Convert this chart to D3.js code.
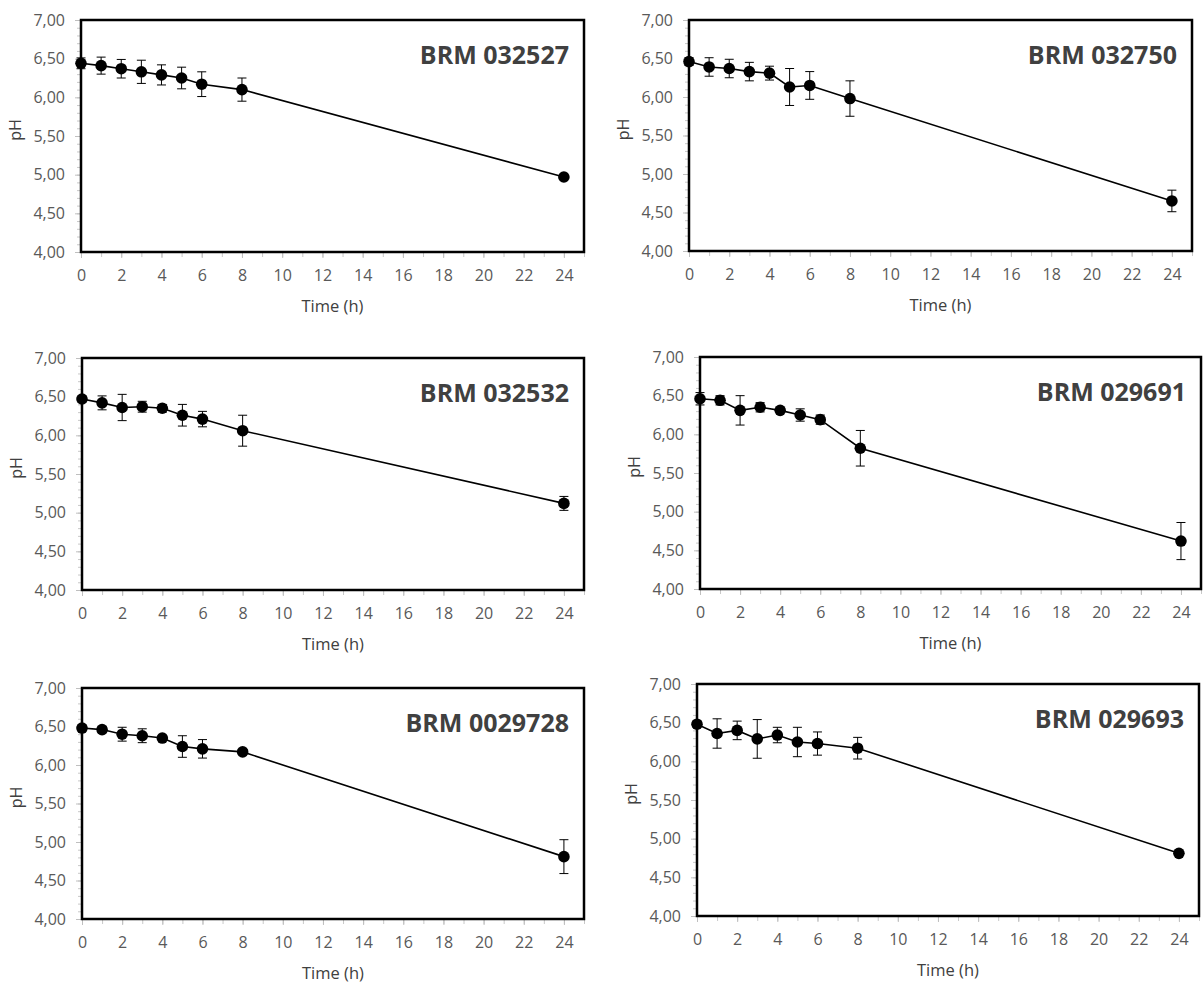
<!DOCTYPE html>
<html>
<head>
<meta charset="utf-8">
<script src="https://cdn.jsdelivr.net/npm/d3@7/dist/d3.min.js"></script>
<style>
  body { margin: 0; background: #fff; }
  text { font-family: "Open Sans", sans-serif; }
</style>
</head>
<body>
<svg id="chart" width="1203" height="984"></svg>
<script>
// sampling times (h) shared by every strain
var hours = [0, 1, 2, 3, 4, 5, 6, 8, 24]

var strains = ["BRM 032527", "BRM 032750", "BRM 032532", "BRM 029691", "BRM 0029728", "BRM 029693"]

// mean pH and error bar half-width
var ph032527 = [6.44, 6.41, 6.37, 6.33, 6.29, 6.25, 6.17, 6.10, 4.97]
var sd032527 = [0.07, 0.11, 0.12, 0.15, 0.13, 0.14, 0.16, 0.15, 0.02]

var ph032750 = [6.46, 6.39, 6.37, 6.33, 6.31, 6.13, 6.15, 5.98, 4.65]
var sd032750 = [0.05, 0.12, 0.12, 0.12, 0.09, 0.24, 0.18, 0.23, 0.14]

var ph032532 = [6.47, 6.42, 6.36, 6.37, 6.35, 6.26, 6.21, 6.06, 5.12]
var sd032532 = [0.04, 0.09, 0.17, 0.07, 0.05, 0.14, 0.10, 0.20, 0.09]

var ph029691 = [6.46, 6.44, 6.31, 6.35, 6.31, 6.25, 6.19, 5.82, 4.62]
var sd029691 = [0.08, 0.06, 0.19, 0.06, 0.03, 0.08, 0.06, 0.23, 0.24]

var ph0029728 = [6.48, 6.46, 6.40, 6.38, 6.35, 6.24, 6.21, 6.17, 4.81]
var sd0029728 = [0.04, 0.04, 0.09, 0.09, 0.03, 0.14, 0.12, 0.02, 0.22]

var ph029693 = [6.48, 6.36, 6.40, 6.29, 6.34, 6.25, 6.23, 6.17, 4.81]
var sd029693 = [0.04, 0.19, 0.12, 0.25, 0.10, 0.19, 0.15, 0.14, 0.02]

var yTicks = [4, 4.5, 5, 5.5, 6, 6.5, 7]
var xTicks = [0, 2, 4, 6, 8, 10, 12, 14, 16, 18, 20, 22, 24]

var means = [ph032527, ph032750, ph032532, ph029691, ph0029728, ph029693]
var errs = [sd032527, sd032750, sd032532, sd029691, sd0029728, sd029693]

// plot boxes for the 3x2 grid
var boxes = [
  {left: 81,  right: 584,  top: 20,  bottom: 252},
  {left: 689, right: 1192, top: 20,  bottom: 251},
  {left: 82,  right: 584,  top: 358, bottom: 590},
  {left: 700, right: 1201, top: 357, bottom: 589},
  {left: 82,  right: 584,  top: 688, bottom: 919},
  {left: 697, right: 1199, top: 684, bottom: 916}
]

var commaFmt = d3.formatLocale({decimal: ",", thousands: ".", grouping: [3], currency: ["", ""]}).format(".2f")

var svg = d3.select("#chart")

boxes.forEach(function(b, k){
  var x = d3.scaleLinear().domain([0, 25]).range([b.left, b.right])
  var y = d3.scaleLinear().domain([4, 7]).range([b.bottom, b.top])
  var g = svg.append("g")

  var pts = hours.map(function(h, i){ return {t: h, v: means[k][i], e: errs[k][i]} })

  // minor ticks
  g.append("g")
    .attr("transform", "translate(0," + b.bottom + ")")
    .call(d3.axisBottom(x).tickValues(d3.range(0, 26)).tickSize(5).tickFormat(""))
    .call(function(a){ a.select(".domain").remove(); a.selectAll("line").attr("stroke", "#c8c8c8") })
  g.append("g")
    .attr("transform", "translate(" + b.left + ",0)")
    .call(d3.axisLeft(y).tickValues(d3.range(40, 71).map(function(d){ return d / 10 })).tickSize(4).tickFormat(""))
    .call(function(a){ a.select(".domain").remove(); a.selectAll("line").attr("stroke", "#c8c8c8") })

  // labelled axes
  g.append("g")
    .attr("transform", "translate(0," + b.bottom + ")")
    .call(d3.axisBottom(x).tickValues(xTicks).tickSize(6).tickPadding(12))
    .call(function(a){
      a.select(".domain").remove()
      a.selectAll("line").attr("stroke", "#bfbfbf")
      a.selectAll("text").attr("fill", "#595959").style("font-size", "16px")
    })
  g.append("g")
    .attr("transform", "translate(" + b.left + ",0)")
    .call(d3.axisLeft(y).tickValues(yTicks).tickSize(6).tickPadding(10).tickFormat(commaFmt))
    .call(function(a){
      a.select(".domain").remove()
      a.selectAll("line").attr("stroke", "#bfbfbf")
      a.selectAll("text").attr("fill", "#595959").style("font-size", "16px")
    })

  // frame
  g.append("rect")
    .attr("x", b.left).attr("y", b.top)
    .attr("width", b.right - b.left).attr("height", b.bottom - b.top)
    .attr("fill", "none").attr("stroke", "#000").attr("stroke-width", 2.5)

  // error bars
  var eb = g.selectAll(".err").data(pts).enter().append("g").attr("class", "err")
  eb.append("line")
    .attr("x1", function(d){ return x(d.t) }).attr("x2", function(d){ return x(d.t) })
    .attr("y1", function(d){ return y(d.v - d.e) }).attr("y2", function(d){ return y(d.v + d.e) })
    .attr("stroke", "#000").attr("stroke-width", 1)
  eb.selectAll(".cap").data(function(d){ return [d.v - d.e, d.v + d.e].map(function(v){ return {t: d.t, v: v} }) })
    .enter().append("line")
    .attr("x1", function(d){ return x(d.t) - 4.5 }).attr("x2", function(d){ return x(d.t) + 4.5 })
    .attr("y1", function(d){ return y(d.v) }).attr("y2", function(d){ return y(d.v) })
    .attr("stroke", "#000").attr("stroke-width", 1)

  // line + markers
  g.append("path")
    .datum(pts)
    .attr("d", d3.line().x(function(d){ return x(d.t) }).y(function(d){ return y(d.v) }))
    .attr("fill", "none").attr("stroke", "#000").attr("stroke-width", 1.6)
  g.selectAll("circle").data(pts).enter().append("circle")
    .attr("cx", function(d){ return x(d.t) }).attr("cy", function(d){ return y(d.v) })
    .attr("r", 5.8).attr("fill", "#000")

  // strain name
  g.append("text")
    .attr("x", b.right - 15).attr("y", b.top + 44)
    .attr("text-anchor", "end")
    .attr("fill", "#404040")
    .style("font-size", "25px").style("font-weight", "bold")
    .text(strains[k])

  // axis titles
  g.append("text")
    .attr("x", (b.left + b.right) / 2).attr("y", b.bottom + 60)
    .attr("text-anchor", "middle").attr("fill", "#404040")
    .style("font-size", "16.5px")
    .text("Time (h)")
  g.append("text")
    .attr("transform", "translate(" + (b.left - 60) + "," + ((b.top + b.bottom) / 2 - 6) + ") rotate(-90)")
    .attr("text-anchor", "middle").attr("fill", "#404040")
    .style("font-size", "16px")
    .text("pH")
})
</script>
</body>
</html>
